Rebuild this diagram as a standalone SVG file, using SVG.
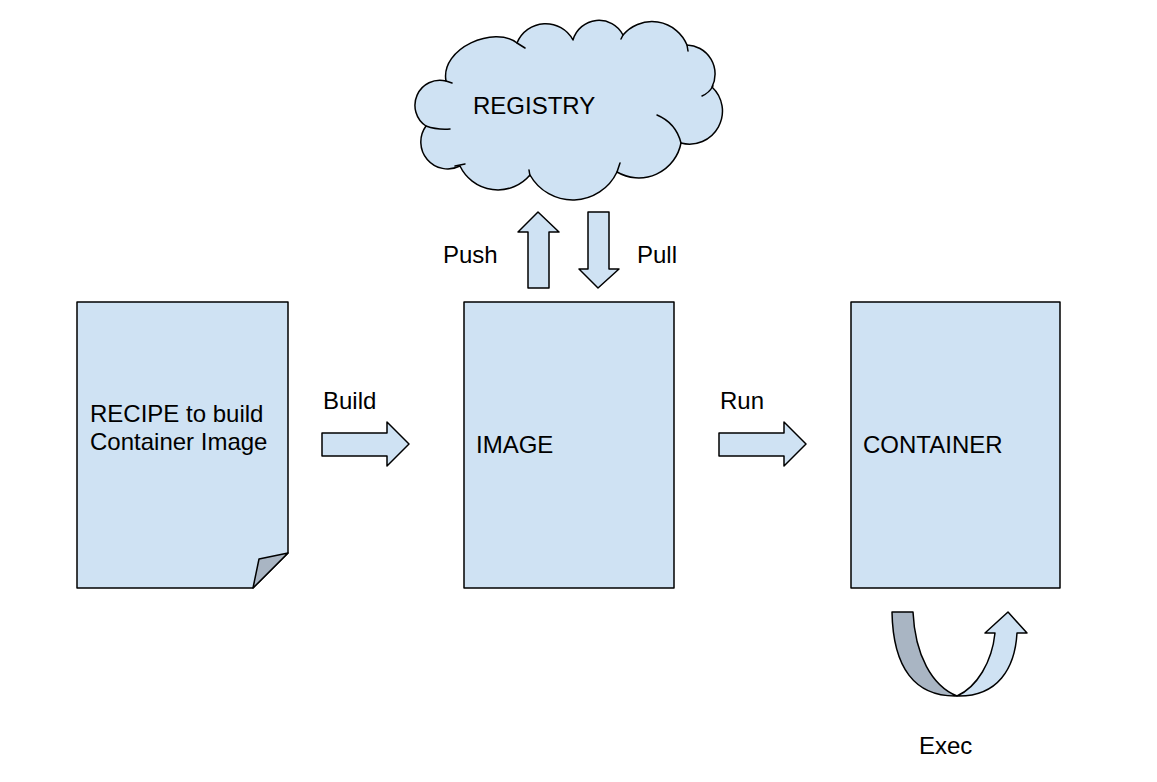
<svg xmlns="http://www.w3.org/2000/svg" width="1157" height="782" viewBox="0 0 1157 782">
<style>
.shape{fill:#cfe2f3;stroke:#000;stroke-width:1.5;stroke-linejoin:round}
.dark{fill:#a9b5c3;stroke:#000;stroke-width:1.5;stroke-linejoin:round}
.hook{fill:none;stroke:#000;stroke-width:1.5;stroke-linecap:round}
text{font-family:"Liberation Sans",Arial,sans-serif;font-size:24px;fill:#000}
</style>
<rect width="1157" height="782" fill="#fff"/>
<g id="registry">
<path class="shape" d="M426,126 A25,25 0 0 1 446,81 C440,48 495,25 517,43 A31,31 0 0 1 573,40 A27,27 0 0 1 623,35 A38,38 0 0 1 687,45 A29,29 0 0 1 712,87 A33,33 0 0 1 681,143 A43,43 0 0 1 617,172 A49,49 0 0 1 530,175 A42,42 0 0 1 460,166 A27,27 0 0 1 426,126 Z"/>
<path class="hook" d="M426,126 Q437,130 450,129"/>
<path class="hook" d="M455,166 L465,164"/>
<path class="hook" d="M530,176 L529,170"/>
<path class="hook" d="M617,172 L620,163"/>
<path class="hook" d="M681,143 Q676,123 657,115"/>
<path class="hook" d="M713,86 Q709,93 702,96"/>
<path class="hook" d="M687,45 L688,51"/>
<path class="hook" d="M623,35 L621,39"/>
<path class="hook" d="M517,43 L525,48"/>
<path class="hook" d="M446,81 L452,83"/>
<text x="473" y="114">REGISTRY</text>
</g>
<g id="recipe">
<path class="shape" d="M77,302 H288 V553 L253,588 H77 Z"/>
<path class="dark" d="M253,588 L259,559 L288,553 Z"/>
<text x="90" y="422">RECIPE to build</text>
<text x="90" y="450">Container Image</text>
</g>
<g id="image">
<rect class="shape" x="464" y="302" width="210" height="286"/>
<text x="476" y="453">IMAGE</text>
</g>
<g id="container">
<rect class="shape" x="851" y="302" width="209" height="286"/>
<text x="863" y="453">CONTAINER</text>
</g>
<g id="connectors">
<g id="build">
<path class="shape" d="M322,433 H387 V422 L409,444 L387,466 V456 H322 Z"/>
<text x="323" y="409">Build</text>
</g>
<g id="run">
<path class="shape" d="M719,433 H784 V422 L806,444 L784,466 V456 H719 Z"/>
<text x="720" y="409">Run</text>
</g>
<g id="push">
<path class="shape" d="M528,288 V232 H518 L538,212 L559,232 H549 V288 Z"/>
<text x="443" y="263">Push</text>
</g>
<g id="pull">
<path class="shape" d="M588,212 H609 V269 H619 L598,288 L579,269 H588 Z"/>
<text x="637" y="263">Pull</text>
</g>
<g id="exec">
<path class="dark" d="M892,612 L913,612 C915,655 932,686 957,696 C915,697 893,668 892,612 Z"/>
<path class="shape" d="M957,696 C998,697 1015,668 1017,633 L1027,633 L1008,612 L985,633 L995,633 C992,662 977,687 957,696 Z"/>
<text x="919" y="754">Exec</text>
</g>
</g>
</svg>
